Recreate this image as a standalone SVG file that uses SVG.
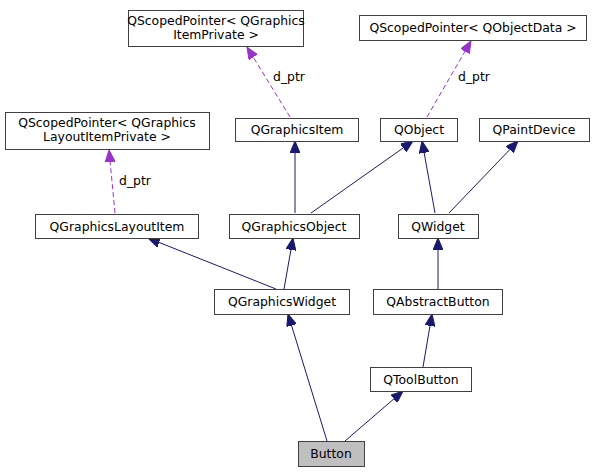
<svg xmlns="http://www.w3.org/2000/svg" width="604" height="473" viewBox="0 0 604 473">
<style>
.box{fill:#ffffff;stroke:#404040;stroke-width:1}
.cur{fill:#bfbfbf;stroke:#404040;stroke-width:1}
text{font-family:"DejaVu Sans",sans-serif;font-size:12.4px;fill:#000000;text-anchor:middle}
.inh{stroke:#191970;stroke-width:1;fill:none;marker-end:url(#navy)}
.use{stroke:#9a32cd;stroke-width:1;fill:none;stroke-dasharray:5,3;marker-end:url(#purple)}
</style>
<defs>
<marker id="navy" viewBox="0 0 12 10" refX="12" refY="5" markerWidth="12" markerHeight="10" markerUnits="userSpaceOnUse" orient="auto">
<path d="M0,0 L12,5 L0,10 z" fill="#191970" stroke="#191970"/>
</marker>
<marker id="purple" viewBox="0 0 12 10" refX="12" refY="5" markerWidth="12" markerHeight="10" markerUnits="userSpaceOnUse" orient="auto">
<path d="M0,0 L12,5 L0,10 z" fill="#9a32cd" stroke="#9a32cd"/>
</marker>
</defs>
<g id="connectors">
<path class="use" d="M115,213 L109,150"/>
<text x="135" y="185">d_ptr</text>
<path class="use" d="M290,117 L247,47"/>
<text x="289" y="81">d_ptr</text>
<path class="use" d="M427,117 L471,41"/>
<text x="474" y="81">d_ptr</text>
<path class="inh" d="M295,213 L295,141"/>
<path class="inh" d="M311,213 L413,141"/>
<path class="inh" d="M435,213 L422,141"/>
<path class="inh" d="M449,213 L518,141"/>
<path class="inh" d="M276,289 L148,238"/>
<path class="inh" d="M284,289 L293,238"/>
<path class="inh" d="M438,289 L438,238"/>
<path class="inh" d="M423,367 L432,314"/>
<path class="inh" d="M327,441 L288,314"/>
<path class="inh" d="M345,441 L403,391"/>
</g>
<g id="node_sp_gip">
<rect class="box" x="128.5" y="10.5" width="175" height="36"/>
<text x="216" y="25">QScopedPointer&lt; QGraphics</text>
<text x="216" y="39">ItemPrivate &gt;</text>
</g>
<g id="node_sp_od">
<rect class="box" x="359.5" y="15.5" width="227" height="25"/>
<text x="473" y="32">QScopedPointer&lt; QObjectData &gt;</text>
</g>
<g id="node_sp_glip">
<rect class="box" x="5.5" y="112.5" width="204" height="37"/>
<text x="107" y="127">QScopedPointer&lt; QGraphics</text>
<text x="107" y="141">LayoutItemPrivate &gt;</text>
</g>
<g id="node_qgi">
<rect class="box" x="235.5" y="118.5" width="123" height="23"/>
<text x="297" y="134">QGraphicsItem</text>
</g>
<g id="node_qobject">
<rect class="box" x="380.5" y="118.5" width="77" height="23"/>
<text x="419" y="134">QObject</text>
</g>
<g id="node_qpd">
<rect class="box" x="479.5" y="118.5" width="110" height="23"/>
<text x="534" y="134">QPaintDevice</text>
</g>
<g id="node_qgli">
<rect class="box" x="35.5" y="214.5" width="163" height="24"/>
<text x="117" y="231">QGraphicsLayoutItem</text>
</g>
<g id="node_qgo">
<rect class="box" x="229.5" y="214.5" width="130" height="24"/>
<text x="294" y="231">QGraphicsObject</text>
</g>
<g id="node_qwidget">
<rect class="box" x="398.5" y="214.5" width="80" height="24"/>
<text x="438" y="231">QWidget</text>
</g>
<g id="node_qgw">
<rect class="box" x="214.5" y="289.5" width="135" height="25"/>
<text x="282" y="306">QGraphicsWidget</text>
</g>
<g id="node_qab">
<rect class="box" x="373.5" y="289.5" width="129" height="25"/>
<text x="438" y="306">QAbstractButton</text>
</g>
<g id="node_qtb">
<rect class="box" x="370.5" y="367.5" width="101" height="24"/>
<text x="421" y="384">QToolButton</text>
</g>
<g id="node_button">
<rect class="cur" x="298.5" y="441.5" width="66" height="25"/>
<text x="331" y="458">Button</text>
</g>
</svg>
